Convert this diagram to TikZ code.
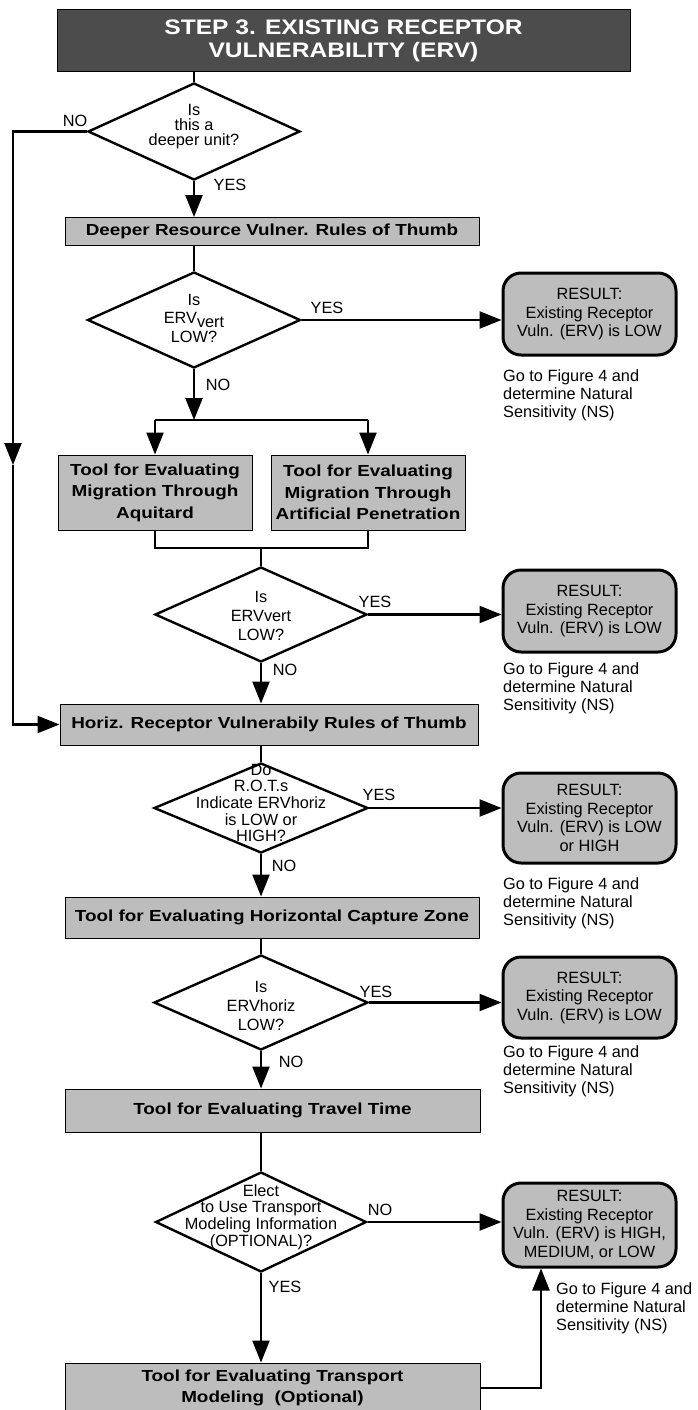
\documentclass[tikz,border=0pt]{standalone}
\usepackage{fontspec}
\setmainfont{Liberation Sans}
\newfontfamily\boxfont{Liberation Sans}[FakeStretch=1.18]
\newfontfamily\hdrfont{Liberation Sans}[FakeStretch=1.17]
\usetikzlibrary{shapes.geometric,arrows.meta}
\definecolor{boxgray}{gray}{0.74}
\definecolor{hdrgray}{gray}{0.30}
\newcommand{\regtxt}{\fontsize{16.3}{19}\selectfont}
\newcommand{\boxtxt}{\boxfont\bfseries\fontsize{16}{21.5}\selectfont}
\tikzset{
  conn/.style={line width=2.4pt},
  arr/.style={line width=2.4pt,-{Triangle[length=22pt,width=17pt]}},
  sbox/.style={draw,line width=1pt,fill=boxgray,inner sep=0pt,align=center,font=\boxtxt},
  dia/.style={diamond,draw,line width=2.4pt,fill=white,inner sep=0pt},
  dtext/.style={align=center,inner sep=0pt,font=\regtxt},
  res/.style={draw,rounded corners=18pt,line width=3pt,fill=boxgray,inner sep=0pt,
     minimum width=173pt,align=center,font=\fontsize{16.3}{18.5}\selectfont},
  note/.style={anchor=west,align=left,inner sep=0pt,font=\fontsize{16.3}{18}\selectfont},
  lbl/.style={inner sep=0pt,font=\regtxt},
}
\begin{document}
\begin{tikzpicture}[x=1pt,y=-1pt]
\useasboundingbox (0,0) rectangle (697,1410);
% header
\node[draw,line width=1pt,fill=hdrgray,minimum width=573pt,minimum height=62pt,inner sep=0pt,
  align=center,text=white,font=\hdrfont\bfseries\fontsize{21}{23}\selectfont]
  (hdr) at (343.5,41) {STEP 3. EXISTING RECEPTOR\\VULNERABILITY (ERV)};
% decision 1
\node[dia,minimum width=212pt,minimum height=97pt] (d1) at (194,131.5) {};
\node[dtext,font=\fontsize{16.3}{15}\selectfont] (d1t) at (194,127) {Is\\this a\\deeper unit?};
\node[sbox,minimum width=414pt,minimum height=28pt] (b1) at (272,231.5) {Deeper Resource Vulner. Rules of Thumb};
% decision 2
\node[dia,minimum width=213pt,minimum height=96pt] (d2) at (194,320) {};
\node[dtext,font=\fontsize{16.3}{18.5}\selectfont] (d2t) at (194,318) {Is\\ERV\raisebox{-4pt}{vert}\\LOW?};
\node[res,minimum height=82pt] (r1) at (589.5,314) {RESULT:\\Existing Receptor\\Vuln. (ERV) is LOW};
\node[note] (n1) at (503,395) {Go to Figure 4 and\\determine Natural\\Sensitivity (NS)};
% tools
\coordinate (sp) at (194,420);
\node[sbox,minimum width=194pt,minimum height=75pt] (t1) at (155,492.5) {Tool for Evaluating\\Migration Through\\Aquitard};
\node[sbox,minimum width=194pt,minimum height=75pt] (t2) at (368,492.5) {Tool for Evaluating\\Migration Through\\Artificial Penetration};
\coordinate (mg) at (261,548);
% decision 3
\node[dia,minimum width=212pt,minimum height=95pt] (d3) at (261,614.5) {};
\node[dtext,font=\fontsize{16.3}{19}\selectfont] (d3t) at (261,616) {Is\\ERVvert\\LOW?};
\node[res,minimum height=82pt] (r2) at (589.5,611) {RESULT:\\Existing Receptor\\Vuln. (ERV) is LOW};
\node[note] (n2) at (503,688) {Go to Figure 4 and\\determine Natural\\Sensitivity (NS)};
% horiz
\node[sbox,minimum width=418pt,minimum height=41pt] (hz) at (269,724.5) {Horiz. Receptor Vulnerabily Rules of Thumb};
% decision 4
\node[dia,minimum width=214pt,minimum height=90pt] (d4) at (261,808) {};
\node[dtext,font=\fontsize{16.3}{16.6}\selectfont] (d4t) at (261,803) {Do\\R.O.T.s\\Indicate ERVhoriz\\is LOW or\\HIGH?};
\node[res,minimum height=90pt] (r3) at (589.5,818) {RESULT:\\Existing Receptor\\Vuln. (ERV) is LOW\\or HIGH};
\node[note] (n3) at (503,903) {Go to Figure 4 and\\determine Natural\\Sensitivity (NS)};
\node[sbox,minimum width=414pt,minimum height=41pt] (cz) at (272,917.5) {Tool for Evaluating Horizontal Capture Zone};
% decision 5
\node[dia,minimum width=214pt,minimum height=95pt] (d5) at (261,1002.5) {};
\node[dtext,font=\fontsize{16.3}{19}\selectfont] (d5t) at (261,1006) {Is\\ERVhoriz\\LOW?};
\node[res,minimum height=81pt] (r4) at (589.5,997.5) {RESULT:\\Existing Receptor\\Vuln. (ERV) is LOW};
\node[note] (n4) at (503,1071) {Go to Figure 4 and\\determine Natural\\Sensitivity (NS)};
\node[sbox,minimum width=415pt,minimum height=43pt] (tt) at (272.5,1110.5) {Tool for Evaluating Travel Time};
% decision 6
\node[dia,minimum width=211pt,minimum height=100pt] (d6) at (261,1222) {};
\node[dtext,font=\fontsize{16.3}{16.8}\selectfont] (d6t) at (261,1217) {Elect\\to Use Transport\\Modeling Information\\(OPTIONAL)?};
\node[res,minimum height=84pt] (r5) at (589.5,1225) {RESULT:\\Existing Receptor\\Vuln. (ERV) is HIGH,\\MEDIUM, or LOW};
\node[note] (n5) at (556,1308) {Go to Figure 4 and\\determine Natural\\Sensitivity (NS)};
\node[sbox,minimum width=415pt,minimum height=50pt] (tr) at (272.5,1388) {Tool for Evaluating Transport\\Modeling\ \ (Optional)};
% labels
\node[lbl] (l1) at (75,121) {NO};
\node[lbl] (l2) at (230,185) {YES};
\node[lbl] (l3) at (327,308) {YES};
\node[lbl] (l4) at (218,385) {NO};
\node[lbl] (l5) at (375,602) {YES};
\node[lbl] (l6) at (285,670) {NO};
\node[lbl] (l7) at (379,795) {YES};
\node[lbl] (l8) at (284,866) {NO};
\node[lbl] (l9) at (376,992) {YES};
\node[lbl] (l10) at (291,1062) {NO};
\node[lbl] (l11) at (380,1210) {NO};
\node[lbl] (l12) at (285,1287) {YES};
% helper coordinates
\coordinate (lx) at (13,465);
\coordinate (ux) at (541,0);
% connectors
\draw[conn] (hdr.south -| d1.north) -- (d1.north);
\draw[arr] (d1.south) -- (d1.south |- b1.north);
\draw[conn] (d1.south |- b1.south) -- (d2.north);
\draw[arr] (d2.east) -- (d2.east -| r1.west);
\draw[arr] (d2.south) -- (sp);
\draw[conn] (sp -| t1.north) -- (sp -| t2.north);
\draw[arr] (sp -| t1.north) -- (t1.north);
\draw[arr] (sp -| t2.north) -- (t2.north);
\draw[conn] (t1.south) |- (mg) -| (t2.south);
\draw[conn] (mg) -- (d3.north);
\draw[arr] (d3.east) -- (d3.east -| r2.west);
\draw[arr] (d3.south) -- (d3.south |- hz.north);
\draw[arr] (d1.west) -| (lx);
\draw[arr] (lx) |- (hz.west);
\draw[conn] (d4.north |- hz.south) -- (d4.north);
\draw[arr] (d4.east) -- (d4.east -| r3.west);
\draw[arr] (d4.south) -- (d4.south |- cz.north);
\draw[conn] (d5.north |- cz.south) -- (d5.north);
\draw[arr] (d5.east) -- (d5.east -| r4.west);
\draw[arr] (d5.south) -- (d5.south |- tt.north);
\draw[conn] (d6.north |- tt.south) -- (d6.north);
\draw[arr] (d6.east) -- (d6.east -| r5.west);
\draw[arr] (d6.south) -- (d6.south |- tr.north);
\draw[arr] (tr.east) -| (ux |- r5.south);
\end{tikzpicture}
\end{document}
